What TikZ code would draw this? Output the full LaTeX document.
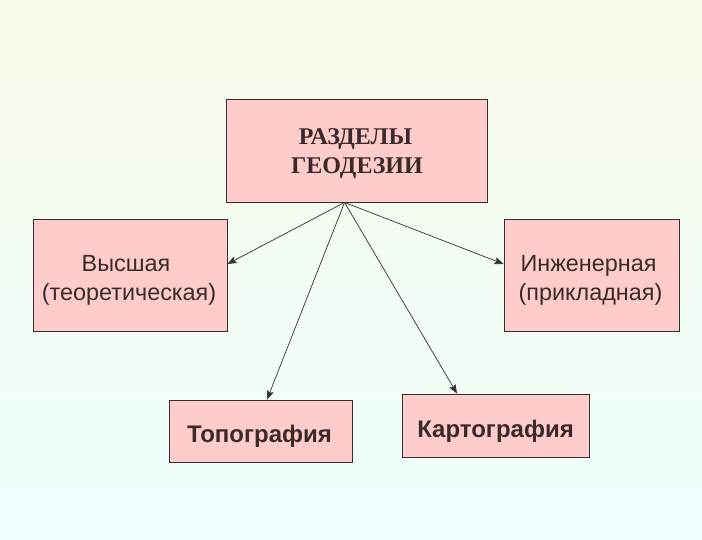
\documentclass[tikz,border=0pt]{standalone}
\usepackage{fontspec}
\setmainfont{Liberation Serif}
\setsansfont{Liberation Sans}
\usetikzlibrary{arrows.meta,calc}
\definecolor{bgtop}{RGB}{248,250,234}
\definecolor{bgbot}{RGB}{238,255,254}
\definecolor{boxfill}{RGB}{255,204,204}
\definecolor{boxline}{RGB}{55,45,45}
\definecolor{txtcol}{RGB}{60,42,42}
\tikzset{
  box/.style={draw=boxline, fill=boxfill, line width=0.9bp, inner sep=0pt},
  serifbold/.style={font=\fontsize{24bp}{28bp}\selectfont\bfseries, text=txtcol, anchor=base, inner sep=0pt},
  sanstxt/.style={font=\sffamily\fontsize{23.4bp}{28bp}\selectfont, text=txtcol, anchor=base, inner sep=0pt},
  sansbold/.style={font=\sffamily\bfseries\fontsize{24bp}{28bp}\selectfont, text=txtcol, anchor=base, inner sep=0pt},
  conn/.style={draw=boxline, line width=0.7bp, -{Stealth[length=9bp,width=7bp,inset=1.5bp]}}
}
\begin{document}
\begin{tikzpicture}[x=1bp,y=-1bp]
\shade[top color=bgtop, bottom color=bgbot] (0,0) rectangle (702,540);
\useasboundingbox (0,0) rectangle (702,540);
% boxes
\node[box, minimum width=261bp, minimum height=103bp] (top) at (356.5,150.5) {};
\node[box, minimum width=194bp, minimum height=112bp] (left) at (130,275) {};
\node[box, minimum width=175bp, minimum height=112bp] (right) at (591.5,275) {};
\node[box, minimum width=183bp, minimum height=62bp] (topo) at (260.5,431) {};
\node[box, minimum width=187bp, minimum height=63bp] (karto) at (495.5,425.5) {};
% texts
\node[serifbold] (t1) at (355.5,145) {РАЗДЕЛЫ};
\node[serifbold] (t2) at (357,174) {ГЕОДЕЗИИ};
\node[sanstxt] (l1) at (126,272) {Высшая};
\node[sanstxt] (l2) at (129,300) {(теоретическая)};
\node[sanstxt] (r1) at (588.5,272) {Инженерная};
\node[sanstxt] (r2) at (590.5,300) {(прикладная)};
\node[sansbold] (tp) at (259.5,442) {Топография};
\node[sansbold] (kt) at (495.5,437) {Картография};
% connectors
\coordinate (o) at ($(top.south west)+(119,0)$);
\draw[conn] (o) -- ([yshift=11bp]left.east);
\draw[conn] (o) -- ([yshift=11bp]right.west);
\draw[conn] (o) -- ([xshift=6.5bp]topo.north);
\draw[conn] (o) -- ([xshift=-38.5bp]karto.north);
\end{tikzpicture}
\end{document}
